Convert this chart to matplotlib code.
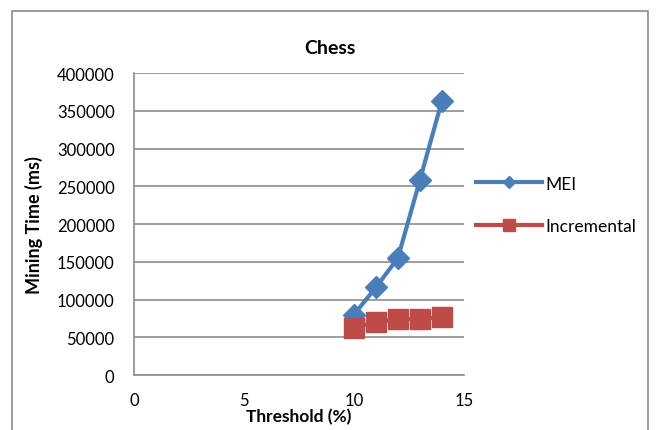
import numpy as np
import matplotlib.pyplot as plt
import matplotlib
from matplotlib.patches import Rectangle

matplotlib.rcParams.update({'font.family': ['Lato', 'DejaVu Sans'], 'font.size': 12})

# Mining time (ms) for each support threshold
threshold = [10, 11, 12, 13, 14]
mei = [80000, 116000, 155000, 258000, 363000]
incremental = [62000, 70000, 74000, 74000, 77000]

fig = plt.figure(figsize=(6.57, 4.31), dpi=100)
ax = fig.add_axes([0.204, 0.1276, 0.502, 0.7006])

# chart frame
fig.patches.append(Rectangle((12/657, -0.05), 636/657, 1.05 - 12/431, transform=fig.transFigure,
                             fill=False, edgecolor='#8c8c8c', linewidth=1.2))

ax.plot(threshold, mei, '-D', color='#4a7ebb', linewidth=3, markersize=11, label='MEI')
ax.plot(threshold, incremental, '-s', color='#be4b48', linewidth=3, markersize=15, label='Incremental')

ax.set_xlim(0, 15)
ax.set_ylim(0, 400000)
ax.set_xticks([0, 5, 10, 15])
ax.set_yticks(np.arange(0, 400001, 50000))
ax.yaxis.grid(True, color='#8c8c8c', linewidth=1.2)
ax.set_axisbelow(True)
for s in ['top', 'right']:
    ax.spines[s].set_visible(False)
for s in ['left', 'bottom']:
    ax.spines[s].set_color('#8c8c8c')
    ax.spines[s].set_linewidth(1.2)
ax.tick_params(length=0, labelsize=12)
ax.tick_params(axis='x', pad=12)
ax.tick_params(axis='y', pad=14)

fig.text(0.502, 1 - 48/431, 'Chess', fontweight='bold', fontsize=14, ha='center', va='center')
ax.set_xlabel('Threshold (%)', fontweight='bold', fontsize=12.5, labelpad=0)
ax.set_ylabel('Mining Time (ms)', fontweight='bold', fontsize=13, labelpad=10)

leg = ax.legend(loc='center left', bbox_to_anchor=(0.99, 0.563), frameon=False, fontsize=12.5,
                handlelength=3.8, handletextpad=0.2, labelspacing=1.55, markerscale=0.55)

plt.savefig('out.png', dpi=100)
